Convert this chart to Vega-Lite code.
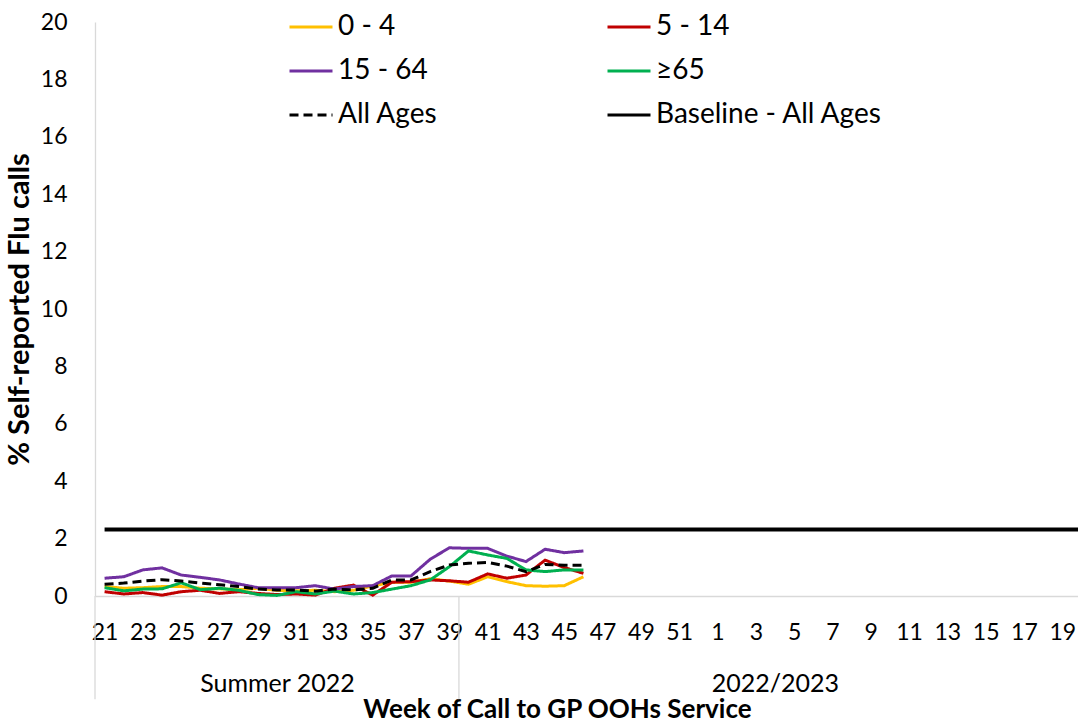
{
  "$schema": "https://vega.github.io/schema/vega-lite/v6.json",
  "width": 983,
  "height": 574,
  "autosize": "none",
  "padding": {"left": 95, "top": 22, "right": 0, "bottom": 126},
  "background": "white",
  "config": {
    "view": {"stroke": null},
    "font": "Lato",
    "axis": {"labelColor": "#000000", "titleColor": "#000000", "grid": false, "ticks": false, "domainColor": "#d9d9d9", "domainWidth": 1.3}
  },
  "datasets": {
    "ages": [
      {"week": "21", "series": "0 - 4", "value": 0.33}, {"week": "22", "series": "0 - 4", "value": 0.27}, {"week": "23", "series": "0 - 4", "value": 0.29}, {"week": "24", "series": "0 - 4", "value": 0.33}, {"week": "25", "series": "0 - 4", "value": 0.33}, {"week": "26", "series": "0 - 4", "value": 0.27}, {"week": "27", "series": "0 - 4", "value": 0.25}, {"week": "28", "series": "0 - 4", "value": 0.22}, {"week": "29", "series": "0 - 4", "value": 0.27}, {"week": "30", "series": "0 - 4", "value": 0.2}, {"week": "31", "series": "0 - 4", "value": 0.18}, {"week": "32", "series": "0 - 4", "value": 0.2}, {"week": "33", "series": "0 - 4", "value": 0.15}, {"week": "34", "series": "0 - 4", "value": 0.2}, {"week": "35", "series": "0 - 4", "value": 0.35}, {"week": "36", "series": "0 - 4", "value": 0.48}, {"week": "37", "series": "0 - 4", "value": 0.48}, {"week": "38", "series": "0 - 4", "value": 0.6}, {"week": "39", "series": "0 - 4", "value": 0.52}, {"week": "40", "series": "0 - 4", "value": 0.41}, {"week": "41", "series": "0 - 4", "value": 0.67}, {"week": "42", "series": "0 - 4", "value": 0.5}, {"week": "43", "series": "0 - 4", "value": 0.36}, {"week": "44", "series": "0 - 4", "value": 0.34}, {"week": "45", "series": "0 - 4", "value": 0.36}, {"week": "46", "series": "0 - 4", "value": 0.67},
      {"week": "21", "series": "5 - 14", "value": 0.15}, {"week": "22", "series": "5 - 14", "value": 0.07}, {"week": "23", "series": "5 - 14", "value": 0.12}, {"week": "24", "series": "5 - 14", "value": 0.03}, {"week": "25", "series": "5 - 14", "value": 0.15}, {"week": "26", "series": "5 - 14", "value": 0.2}, {"week": "27", "series": "5 - 14", "value": 0.09}, {"week": "28", "series": "5 - 14", "value": 0.15}, {"week": "29", "series": "5 - 14", "value": 0.09}, {"week": "30", "series": "5 - 14", "value": 0.05}, {"week": "31", "series": "5 - 14", "value": 0.07}, {"week": "32", "series": "5 - 14", "value": 0.03}, {"week": "33", "series": "5 - 14", "value": 0.27}, {"week": "34", "series": "5 - 14", "value": 0.38}, {"week": "35", "series": "5 - 14", "value": 0.03}, {"week": "36", "series": "5 - 14", "value": 0.48}, {"week": "37", "series": "5 - 14", "value": 0.5}, {"week": "38", "series": "5 - 14", "value": 0.56}, {"week": "39", "series": "5 - 14", "value": 0.53}, {"week": "40", "series": "5 - 14", "value": 0.48}, {"week": "41", "series": "5 - 14", "value": 0.77}, {"week": "42", "series": "5 - 14", "value": 0.62}, {"week": "43", "series": "5 - 14", "value": 0.73}, {"week": "44", "series": "5 - 14", "value": 1.25}, {"week": "45", "series": "5 - 14", "value": 0.99}, {"week": "46", "series": "5 - 14", "value": 0.79},
      {"week": "21", "series": "15 - 64", "value": 0.62}, {"week": "22", "series": "15 - 64", "value": 0.67}, {"week": "23", "series": "15 - 64", "value": 0.91}, {"week": "24", "series": "15 - 64", "value": 0.98}, {"week": "25", "series": "15 - 64", "value": 0.73}, {"week": "26", "series": "15 - 64", "value": 0.65}, {"week": "27", "series": "15 - 64", "value": 0.56}, {"week": "28", "series": "15 - 64", "value": 0.42}, {"week": "29", "series": "15 - 64", "value": 0.29}, {"week": "30", "series": "15 - 64", "value": 0.29}, {"week": "31", "series": "15 - 64", "value": 0.29}, {"week": "32", "series": "15 - 64", "value": 0.36}, {"week": "33", "series": "15 - 64", "value": 0.24}, {"week": "34", "series": "15 - 64", "value": 0.33}, {"week": "35", "series": "15 - 64", "value": 0.36}, {"week": "36", "series": "15 - 64", "value": 0.7}, {"week": "37", "series": "15 - 64", "value": 0.7}, {"week": "38", "series": "15 - 64", "value": 1.28}, {"week": "39", "series": "15 - 64", "value": 1.68}, {"week": "40", "series": "15 - 64", "value": 1.66}, {"week": "41", "series": "15 - 64", "value": 1.66}, {"week": "42", "series": "15 - 64", "value": 1.39}, {"week": "43", "series": "15 - 64", "value": 1.2}, {"week": "44", "series": "15 - 64", "value": 1.63}, {"week": "45", "series": "15 - 64", "value": 1.51}, {"week": "46", "series": "15 - 64", "value": 1.57},
      {"week": "21", "series": "≥65", "value": 0.29}, {"week": "22", "series": "≥65", "value": 0.18}, {"week": "23", "series": "≥65", "value": 0.24}, {"week": "24", "series": "≥65", "value": 0.25}, {"week": "25", "series": "≥65", "value": 0.46}, {"week": "26", "series": "≥65", "value": 0.22}, {"week": "27", "series": "≥65", "value": 0.27}, {"week": "28", "series": "≥65", "value": 0.2}, {"week": "29", "series": "≥65", "value": 0.05}, {"week": "30", "series": "≥65", "value": 0.02}, {"week": "31", "series": "≥65", "value": 0.15}, {"week": "32", "series": "≥65", "value": 0.07}, {"week": "33", "series": "≥65", "value": 0.17}, {"week": "34", "series": "≥65", "value": 0.07}, {"week": "35", "series": "≥65", "value": 0.12}, {"week": "36", "series": "≥65", "value": 0.24}, {"week": "37", "series": "≥65", "value": 0.36}, {"week": "38", "series": "≥65", "value": 0.56}, {"week": "39", "series": "≥65", "value": 1.02}, {"week": "40", "series": "≥65", "value": 1.57}, {"week": "41", "series": "≥65", "value": 1.43}, {"week": "42", "series": "≥65", "value": 1.31}, {"week": "43", "series": "≥65", "value": 0.91}, {"week": "44", "series": "≥65", "value": 0.85}, {"week": "45", "series": "≥65", "value": 0.91}, {"week": "46", "series": "≥65", "value": 0.91},
      {"week": "21", "series": "All Ages", "value": 0.41}, {"week": "22", "series": "All Ages", "value": 0.45}, {"week": "23", "series": "All Ages", "value": 0.52}, {"week": "24", "series": "All Ages", "value": 0.57}, {"week": "25", "series": "All Ages", "value": 0.52}, {"week": "26", "series": "All Ages", "value": 0.45}, {"week": "27", "series": "All Ages", "value": 0.39}, {"week": "28", "series": "All Ages", "value": 0.33}, {"week": "29", "series": "All Ages", "value": 0.24}, {"week": "30", "series": "All Ages", "value": 0.21}, {"week": "31", "series": "All Ages", "value": 0.21}, {"week": "32", "series": "All Ages", "value": 0.17}, {"week": "33", "series": "All Ages", "value": 0.24}, {"week": "34", "series": "All Ages", "value": 0.21}, {"week": "35", "series": "All Ages", "value": 0.27}, {"week": "36", "series": "All Ages", "value": 0.56}, {"week": "37", "series": "All Ages", "value": 0.56}, {"week": "38", "series": "All Ages", "value": 0.85}, {"week": "39", "series": "All Ages", "value": 1.08}, {"week": "40", "series": "All Ages", "value": 1.14}, {"week": "41", "series": "All Ages", "value": 1.17}, {"week": "42", "series": "All Ages", "value": 1.04}, {"week": "43", "series": "All Ages", "value": 0.85}, {"week": "44", "series": "All Ages", "value": 1.1}, {"week": "45", "series": "All Ages", "value": 1.07}, {"week": "46", "series": "All Ages", "value": 1.07}
    ],
    "baseline": [
      {"series": "Baseline - All Ages", "value": 2.32, "from": "21", "to": "20"}
    ],
    "groups": [
      {"boundary": 0},
      {"boundary": 19}
    ]
  },
  "layer": [
    {
      "data": {"name": "ages"},
      "mark": {"type": "line", "strokeJoin": "miter"},
      "encoding": {
        "x": {
          "field": "week", "type": "nominal", "sort": null,
          "scale": {"type": "point", "padding": 0.5, "range": [0, 996],
            "domain": ["21","22","23","24","25","26","27","28","29","30","31","32","33","34","35","36","37","38","39","40","41","42","43","44","45","46","47","48","49","50","51","52","1","2","3","4","5","6","7","8","9","10","11","12","13","14","15","16","17","18","19","20"]},
          "axis": {
            "title": null, "labelAngle": 0,
            "values": ["21","23","25","27","29","31","33","35","37","39","41","43","45","47","49","51","1","3","5","7","9","11","13","15","17","19"],
            "labelFont": "Lato", "labelFontSize": 23, "labelPadding": 25
          }
        },
        "y": {
          "field": "value", "type": "quantitative",
          "scale": {"domain": [0, 20], "nice": false, "zero": true},
          "axis": {
            "title": "% Self-reported Flu calls", "values": [0,2,4,6,8,10,12,14,16,18,20],
            "labelFont": "Lato", "labelFontSize": 23, "labelPadding": 28,
            "titleFont": "Lato", "titleFontSize": 29, "titleFontWeight": "bold", "titlePadding": 6
          }
        },
        "color": {
          "field": "series", "type": "nominal",
          "scale": {"domain": ["0 - 4","5 - 14","15 - 64","≥65","All Ages","Baseline - All Ages"], "range": ["#FFC000","#C00000","#7030A0","#00B050","#000000","#000000"]},
          "legend": {
            "title": null, "orient": "none", "legendX": 193, "legendY": -18, "columns": 2, "direction": "horizontal",
            "symbolType": "stroke", "symbolSize": 1849, "symbolStrokeWidth": 3.5,
            "labelFont": "Lato", "labelFontSize": 28, "labelColor": "#000000", "labelLimit": 400, "labelOffset": 4,
            "columnPadding": 163, "rowPadding": 7
          }
        },
        "strokeDash": {
          "field": "series", "type": "nominal",
          "scale": {"domain": ["0 - 4","5 - 14","15 - 64","≥65","All Ages","Baseline - All Ages"], "range": [[1,0],[1,0],[1,0],[1,0],[9,5],[1,0]]},
          "legend": {
            "title": null, "orient": "none", "legendX": 193, "legendY": -18, "columns": 2, "direction": "horizontal",
            "symbolType": "stroke", "symbolSize": 1849, "symbolStrokeWidth": 3.5,
            "labelFont": "Lato", "labelFontSize": 28, "labelColor": "#000000", "labelLimit": 400, "labelOffset": 4,
            "columnPadding": 163, "rowPadding": 7
          }
        },
        "strokeWidth": {
          "field": "series", "type": "nominal",
          "scale": {"domain": ["0 - 4","5 - 14","15 - 64","≥65","All Ages","Baseline - All Ages"], "range": [3,3,3,3,4,4]},
          "legend": null
        }
      }
    },
    {
      "data": {"name": "baseline"},
      "mark": {"type": "rule", "strokeWidth": 4},
      "encoding": {
        "x": {"field": "from", "type": "nominal",
          "scale": {"type": "point", "padding": 0.5, "range": [0, 996],
            "domain": ["21","22","23","24","25","26","27","28","29","30","31","32","33","34","35","36","37","38","39","40","41","42","43","44","45","46","47","48","49","50","51","52","1","2","3","4","5","6","7","8","9","10","11","12","13","14","15","16","17","18","19","20"]},
          "axis": null},
        "x2": {"field": "to"},
        "y": {"field": "value", "type": "quantitative"},
        "color": {"field": "series", "type": "nominal"},
        "strokeDash": {"field": "series", "type": "nominal"}
      }
    },
    {
      "data": {"name": "groups"},
      "mark": {"type": "rule", "color": "#d9d9d9", "strokeWidth": 1.3},
      "encoding": {
        "x": {
          "field": "boundary", "type": "quantitative",
          "scale": {"domain": [0, 52], "range": [0, 996], "nice": false, "zero": false},
          "axis": {
            "orient": "bottom", "domain": false, "ticks": false, "grid": false,
            "values": [9.5, 35.5],
            "labelExpr": "datum.value < 20 ? 'Summer 2022' : '2022/2023'",
            "labelFont": "Lato", "labelFontSize": 25, "labelPadding": 75,
            "title": "Week of Call to GP OOHs Service",
            "titleFont": "Lato", "titleFontSize": 26, "titleFontWeight": "bold",
            "titleX": 462, "titleY": 121, "titleBaseline": "alphabetic", "titleAnchor": null
          }
        },
        "y": {"datum": 0},
        "y2": {"datum": -3.6}
      }
    }
  ],
  "resolve": {"scale": {"x": "independent"}, "axis": {"x": "independent"}}
}
